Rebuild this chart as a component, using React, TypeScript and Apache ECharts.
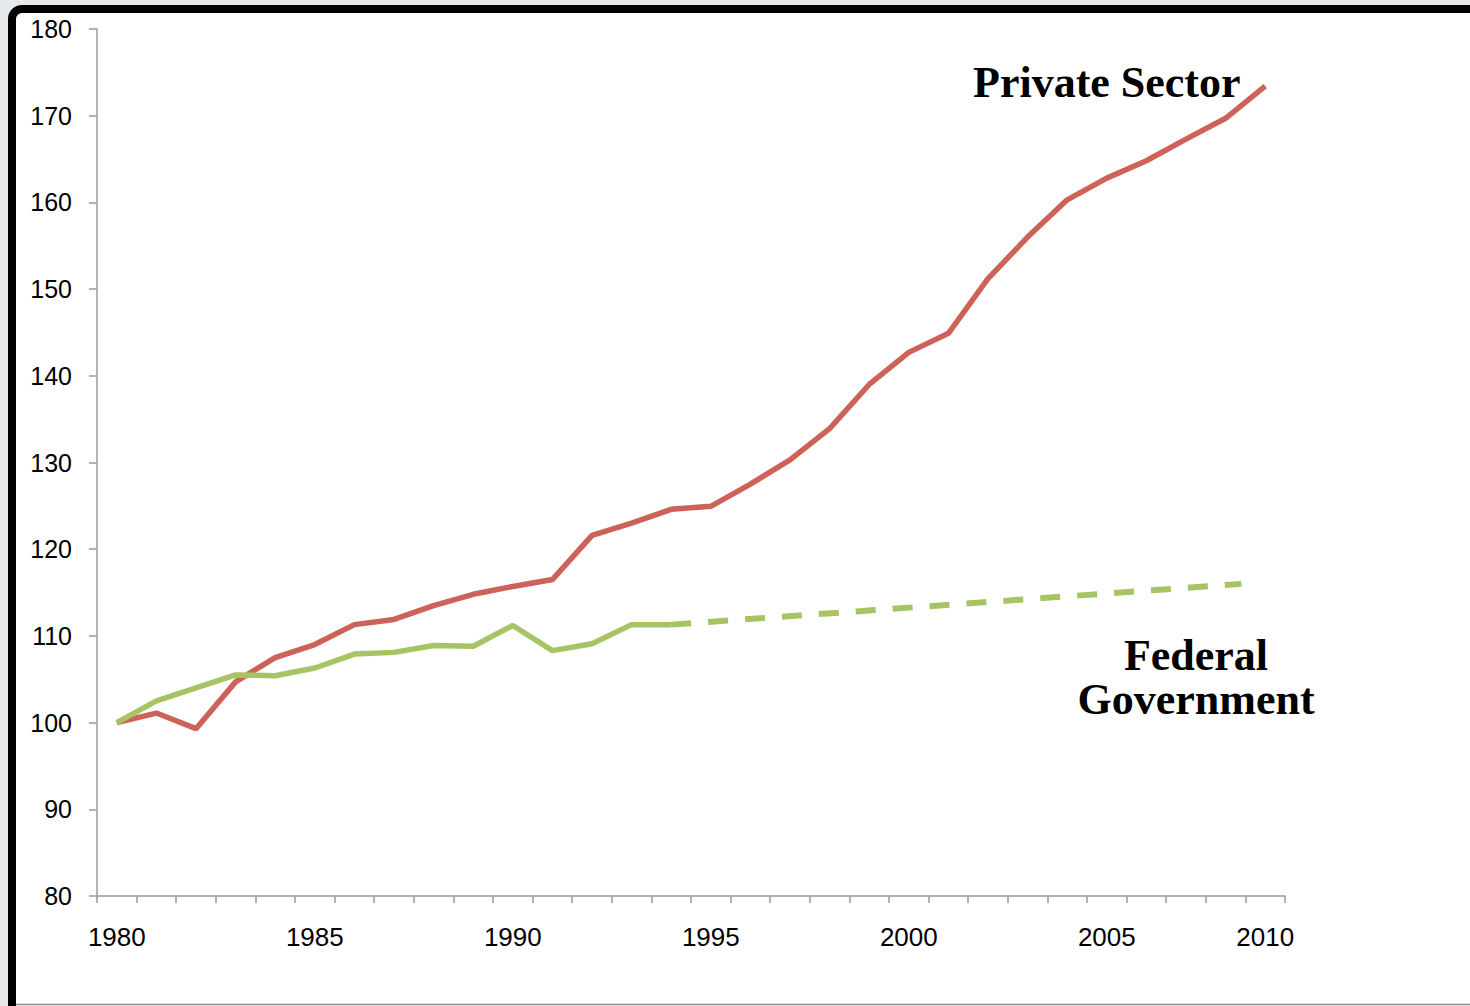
import React, { useEffect, useRef } from "react";
import * as echarts from "echarts";

const years = [
  "1980", "1981", "1982", "1983", "1984", "1985", "1986", "1987", "1988", "1989",
  "1990", "1991", "1992", "1993", "1994", "1995", "1996", "1997", "1998", "1999",
  "2000", "2001", "2002", "2003", "2004", "2005", "2006", "2007", "2008", "2010",
];

const privateSector = [
  100, 101.1, 99.3, 104.7, 107.5, 109.0, 111.3, 111.9, 113.5, 114.8,
  115.7, 116.5, 121.6, 123.0, 124.6, 124.95, 127.5, 130.3, 133.9, 139.0,
  142.7, 144.9, 151.2, 156.0, 160.3, 162.8, 164.8, 167.3, 169.7, 173.4,
];

const federalGov = [
  100, 102.5, 104.0, 105.5, 105.4, 106.3, 107.9, 108.1, 108.9, 108.8,
  111.2, 108.3, 109.1, 111.3, 111.3,
];

// projected federal trend (category index position, value)
const projectionIndex = [14, 28.4];
const projectionValues = [111.3, 116.0];

const yTicks = { min: 80, max: 180, interval: 10 };
const labelIndexes = [0, 5, 10, 15, 20, 25, 29];

const RED = "#cc6258";
const GREEN = "#a6c463";

export default function App() {
  const ref = useRef<HTMLDivElement>(null);

  useEffect(() => {
    if (!ref.current) return;
    const chart = echarts.init(ref.current, undefined, { renderer: "svg" });
    const axisColor = "#9a9a9a";
    const labelFont = "'Liberation Sans', Arial, Helvetica, sans-serif";
    const serif = "'Liberation Serif', 'Times New Roman', serif";

    chart.setOption({
      animation: false,
      backgroundColor: "#e6e9ec",
      grid: { left: 97, right: 185, top: 29, bottom: 110, containLabel: false },
      xAxis: [
        {
          type: "category",
          data: years,
          boundaryGap: true,
          axisLine: { show: true, onZero: false, lineStyle: { color: axisColor, width: 1.5 } },
          axisTick: { show: true, interval: 0, length: 7, lineStyle: { color: axisColor, width: 1.5 } },
          axisLabel: {
            interval: (i: number) => labelIndexes.includes(i),
            color: "#000",
            fontSize: 26,
            fontFamily: labelFont,
            margin: 28,
          },
          splitLine: { show: false },
        },
        {
          type: "value",
          min: -0.5,
          max: 29.5,
          show: false,
          gridIndex: 0,
          axisLine: { onZero: false },
        },
      ],
      yAxis: {
        type: "value",
        min: yTicks.min,
        max: yTicks.max,
        interval: yTicks.interval,
        axisLine: { show: true, onZero: false, lineStyle: { color: axisColor, width: 1.5 } },
        axisTick: { show: true, length: 8, lineStyle: { color: axisColor, width: 1.5 } },
        axisLabel: { color: "#000", fontSize: 25, fontFamily: labelFont, margin: 25 },
        splitLine: { show: false },
      },
      graphic: [
        {
          type: "rect",
          z: -100,
          silent: true,
          shape: { x: 12, y: 9, width: 1600, height: 1200, r: 10 },
          style: { fill: "#ffffff", stroke: "#000000", lineWidth: 8 },
        },
        {
          type: "line",
          z: -90,
          silent: true,
          shape: { x1: 16, y1: 1004.5, x2: 1470, y2: 1004.5 },
          style: { stroke: "#8a8a8a", lineWidth: 1.5 },
        },
        {
          type: "text",
          z: 100,
          x: 973,
          y: 82,
          style: {
            text: "Private Sector",
            font: `bold 44px ${serif}`,
            fill: "#000",
            align: "left",
            verticalAlign: "middle",
          },
        },
        {
          type: "text",
          z: 100,
          x: 1196,
          y: 677,
          style: {
            text: "Federal\nGovernment",
            font: `bold 44px ${serif}`,
            lineHeight: 44,
            fill: "#000",
            align: "center",
            verticalAlign: "middle",
          },
        },
      ],
      series: [
        {
          name: "Private Sector",
          type: "line",
          data: privateSector,
          showSymbol: false,
          symbol: "none",
          lineStyle: { color: RED, width: 5.5 },
          z: 3,
        },
        {
          name: "Federal Government",
          type: "line",
          data: federalGov,
          showSymbol: false,
          symbol: "none",
          lineStyle: { color: GREEN, width: 5.5 },
          z: 4,
        },
        {
          name: "Federal Government (trend)",
          type: "line",
          xAxisIndex: 1,
          data: projectionIndex.map((x, i) => [x, projectionValues[i]]),
          showSymbol: false,
          symbol: "none",
          lineStyle: { color: GREEN, width: 6, type: [20, 17], cap: "butt" },
          z: 4,
        },
      ],
    });

    return () => chart.dispose();
  }, []);

  return (
    <div
      ref={ref}
      style={{ position: "fixed", left: 0, top: 0, width: 1470, height: 1006 }}
    />
  );
}
